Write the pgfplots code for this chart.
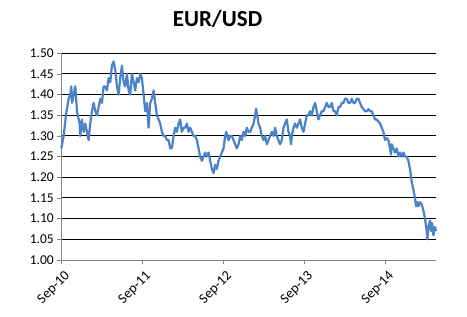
\documentclass[border=0pt]{standalone}
\usepackage{fontspec}
\setmainfont{Carlito}
\usepackage{pgfplots}
\pgfplotsset{compat=1.18}
\definecolor{serie}{RGB}{76,130,200}
\definecolor{axgray}{RGB}{134,134,134}
\begin{document}
\begin{tikzpicture}
\useasboundingbox (0,0) rectangle (467bp,317bp);
\node[anchor=base, font=\fontsize{23bp}{27bp}\selectfont\bfseries] at (217.5bp,290.3bp) {EUR/USD};
\begin{axis}[
  at={(61.3bp,57bp)}, anchor=south west,
  scale only axis, width=374.7bp, height=206.7bp,
  xmin=0, xmax=55.5, ymin=1.00, ymax=1.50,
  axis x line*=bottom, axis y line*=left,
  axis line style={axgray, line width=0.9bp},
  xtick={0,12,24,36,48},
  xticklabels={Sep-10,Sep-11,Sep-12,Sep-13,Sep-14},
  ytick={1.05,1.10,1.15,1.20,1.25,1.30,1.35,1.40,1.45,1.50},
  extra y ticks={1.00},
  extra y tick style={grid=none},
  ymajorgrids, grid style={black, line width=1bp},
  tick align=outside, major tick length=4bp,
  tick style={axgray, line width=0.9bp},
  yticklabel style={/pgf/number format/.cd, fixed, fixed zerofill, precision=2, /tikz/.cd, font=\fontsize{13.5bp}{16bp}\selectfont},
  xticklabel style={rotate=45, anchor=north east, yshift=-2.5bp, xshift=1bp, font=\fontsize{14bp}{16bp}\selectfont},
  /pgf/number format/assume math mode=true,
  clip=false,
]
\addplot[serie, line width=2.2bp, line join=round] coordinates {
(0.00,1.27)(0.35,1.30)(0.69,1.35)(1.09,1.39)(1.33,1.40)(1.48,1.42)(1.58,1.38)(1.83,1.40)(2.07,1.42)
(2.32,1.36)(2.71,1.33)(2.81,1.30)(3.06,1.34)(3.31,1.31)(3.55,1.33)(3.80,1.31)(4.05,1.29)(4.29,1.33)
(4.54,1.36)(4.79,1.38)(5.03,1.36)(5.28,1.35)(5.53,1.37)(5.77,1.39)(6.02,1.38)(6.27,1.42)(6.51,1.42)
(6.76,1.41)(7.01,1.44)(7.25,1.43)(7.50,1.47)(7.75,1.48)(7.99,1.46)(8.24,1.42)(8.49,1.40)(8.73,1.44)
(8.98,1.47)(9.23,1.43)(9.47,1.42)(9.72,1.45)(9.97,1.41)(10.21,1.40)(10.46,1.45)(10.71,1.43)(10.95,1.41)
(11.20,1.44)(11.45,1.43)(11.69,1.45)(11.94,1.44)(12.19,1.40)(12.43,1.36)(12.68,1.38)(12.93,1.32)
(13.17,1.38)(13.42,1.39)(13.67,1.41)(13.91,1.38)(14.16,1.35)(14.41,1.34)(14.65,1.33)(14.90,1.31)
(15.15,1.30)(15.39,1.30)(15.64,1.29)(15.89,1.29)(16.13,1.27)(16.38,1.27)(16.63,1.30)(16.87,1.32)
(17.12,1.31)(17.37,1.33)(17.61,1.34)(17.86,1.31)(18.11,1.32)(18.35,1.32)(18.60,1.33)(18.85,1.31)
(19.09,1.32)(19.34,1.31)(19.59,1.30)(19.83,1.30)(20.08,1.29)(20.33,1.27)(20.57,1.25)(20.82,1.24)
(21.07,1.25)(21.31,1.26)(21.56,1.25)(21.81,1.26)(22.05,1.24)(22.30,1.22)(22.55,1.21)(22.79,1.23)
(23.04,1.22)(23.29,1.24)(23.53,1.25)(23.78,1.26)(24.03,1.27)(24.27,1.30)(24.42,1.31)(24.77,1.29)
(25.01,1.30)(25.26,1.30)(25.51,1.29)(25.75,1.28)(26.00,1.27)(26.25,1.28)(26.49,1.30)(26.74,1.29)
(26.99,1.31)(27.23,1.30)(27.48,1.32)(27.73,1.31)(27.97,1.31)(28.22,1.32)(28.47,1.33)(28.71,1.35)
(28.86,1.366)(29.21,1.33)(29.45,1.32)(29.70,1.30)(29.95,1.29)(30.19,1.30)(30.44,1.28)(30.69,1.29)
(30.93,1.30)(31.18,1.31)(31.43,1.30)(31.67,1.32)(31.92,1.30)(32.17,1.29)(32.41,1.28)(32.66,1.29)
(32.91,1.32)(33.15,1.33)(33.40,1.34)(33.65,1.31)(33.89,1.30)(34.04,1.28)(34.14,1.30)(34.39,1.32)
(34.63,1.33)(34.88,1.32)(35.13,1.33)(35.37,1.34)(35.62,1.32)(35.87,1.31)(36.11,1.33)(36.36,1.35)
(36.61,1.35)(36.85,1.36)(37.10,1.35)(37.35,1.37)(37.59,1.38)(37.84,1.36)(38.09,1.34)(38.33,1.35)
(38.58,1.36)(38.83,1.36)(39.07,1.37)(39.32,1.38)(39.57,1.37)(39.81,1.37)(40.06,1.38)(40.31,1.36)
(40.55,1.36)(40.80,1.35)(41.05,1.37)(41.29,1.37)(41.54,1.38)(41.79,1.38)(42.03,1.39)(42.28,1.39)
(42.53,1.38)(42.77,1.38)(43.02,1.39)(43.27,1.38)(43.51,1.38)(43.76,1.39)(44.01,1.39)(44.25,1.38)
(44.50,1.37)(44.75,1.365)(44.99,1.36)(45.24,1.36)(45.49,1.365)(45.73,1.36)(45.98,1.36)(46.23,1.35)
(46.47,1.34)(46.72,1.34)(46.97,1.335)(47.21,1.33)(47.46,1.32)(47.71,1.31)(47.95,1.29)(48.20,1.295)
(48.45,1.29)(48.69,1.27)(48.84,1.255)(48.94,1.28)(49.19,1.27)(49.43,1.26)(49.68,1.27)(49.93,1.25)
(50.17,1.26)(50.42,1.25)(50.67,1.26)(50.91,1.25)(51.16,1.25)(51.41,1.24)(51.65,1.22)(51.90,1.19)
(52.15,1.17)(52.39,1.15)(52.54,1.13)(52.74,1.14)(52.89,1.13)(53.13,1.14)(53.38,1.135)(53.63,1.12)
(53.87,1.10)(54.12,1.07)(54.22,1.05)(54.37,1.08)(54.61,1.095)(54.76,1.07)(54.91,1.09)(55.11,1.06)
(55.36,1.08)(55.51,1.07)
};
\end{axis}
\end{tikzpicture}
\end{document}
